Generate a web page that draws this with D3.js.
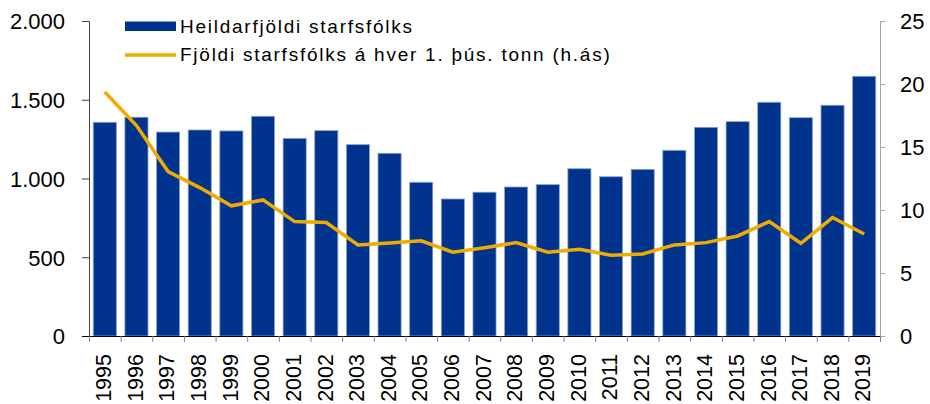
<!DOCTYPE html>
<html><head><meta charset="utf-8">
<script src="https://cdn.jsdelivr.net/npm/d3@7"></script>
<style>
body{margin:0;background:#fff;}
text{font-family:"Liberation Sans",Arial,sans-serif;fill:#000;}
</style></head>
<body><svg id="c" width="930" height="404"></svg>
<script>
const years = ["1995","1996","1997","1998","1999","2000","2001","2002","2003","2004","2005","2006","2007","2008","2009","2010","2011","2012","2013","2014","2015","2016","2017","2018","2019"];
const staffTotal = [1357,1389,1295,1308,1302,1395,1255,1304,1215,1160,976,870,913,946,961,1062,1011,1058,1179,1325,1361,1484,1386,1465,1649];
const staffPerKt = [19.36,16.7,13.05,11.78,10.33,10.8,9.08,9.0,7.23,7.39,7.55,6.65,7.01,7.41,6.65,6.89,6.41,6.51,7.23,7.41,7.94,9.08,7.36,9.4,8.1];
const leftTicks = [0,500,1000,1500,2000];
const rightTicks = [0,5,10,15,20,25];
const seriesNames = ["Heildarfjöldi starfsfólks","Fjöldi starfsfólks á hver 1. þús. tonn (h.ás)"];

const svg = d3.select("#c");
const L=89, R=880, T=21, B=336;
const x = d3.scaleBand().domain(years).range([L,R]).paddingInner(0.27).paddingOuter(0.135);
const yL = d3.scaleLinear().domain([0,2000]).range([B,T]);
const yR = d3.scaleLinear().domain([0,25]).range([B,T]);
const loc = d3.formatLocale({decimal:",",thousands:".",grouping:[3],currency:["",""]});
const fmt = loc.format(",");

// bars
svg.append("g").selectAll("rect").data(years).join("rect")
  .attr("x",d=>x(d)).attr("width",x.bandwidth())
  .attr("y",(d,i)=>yL(staffTotal[i])).attr("height",(d,i)=>B-yL(staffTotal[i]))
  .attr("fill","#00338d").attr("stroke","#8da3cf").attr("stroke-width",0.8);

// line
const line = d3.line().x((d,i)=>x(years[i])+x.bandwidth()/2).y(d=>yR(d));
svg.append("path").datum(staffPerKt).attr("d",line)
  .attr("fill","none").attr("stroke","#f0ab00").attr("stroke-width",3.5).attr("stroke-linejoin","miter");

// left axis
const gl = svg.append("g").attr("transform",`translate(${L},0)`)
  .call(d3.axisLeft(yL).tickValues(leftTicks).tickFormat(fmt).tickSize(7).tickPadding(17));
gl.select(".domain").attr("stroke","#404040");
gl.selectAll(".tick line").attr("stroke","#404040");
gl.selectAll("text").attr("font-size",22).attr("font-family","Liberation Sans, Arial, sans-serif").attr("dy","0.36em");

// right axis
const gr = svg.append("g").attr("transform",`translate(${R},0)`)
  .call(d3.axisRight(yR).tickValues(rightTicks).tickSize(5).tickPadding(15));
gr.select(".domain").attr("stroke","#a6a6a6");
gr.selectAll(".tick line").attr("stroke","#a6a6a6");
gr.selectAll("text").attr("font-size",22).attr("font-family","Liberation Sans, Arial, sans-serif").attr("dy","0.36em");

// bottom axis: boundary ticks
const xb = d3.scaleLinear().domain([0,years.length]).range([L,R]);
const gb = svg.append("g").attr("transform",`translate(0,${B})`)
  .call(d3.axisBottom(xb).tickValues(d3.range(years.length+1)).tickFormat("").tickSize(6).tickSizeOuter(0));
gb.select(".domain").attr("stroke","#000").attr("d",`M${L-7},0.5H${R}`);
gb.selectAll(".tick line").attr("stroke","#808080");

// bottom labels
const gx = svg.append("g").attr("transform",`translate(0,${B})`)
  .call(d3.axisBottom(x).tickSize(0).tickPadding(0));
gx.select(".domain").remove();
gx.selectAll("text").attr("font-size",21.5).attr("font-family","Liberation Sans, Arial, sans-serif")
  .attr("transform","rotate(-90)").attr("text-anchor","end").attr("x",-18).attr("y",-1.5).attr("dy","0.36em");

// legend
const lg = svg.append("g");
lg.append("rect").attr("x",125).attr("y",21.5).attr("width",51).attr("height",9.5).attr("fill","#00338d");
lg.append("line").attr("x1",125).attr("x2",176).attr("y1",55).attr("y2",55).attr("stroke","#f0ab00").attr("stroke-width",3.5);
lg.append("text").attr("x",180).attr("y",32.5).attr("font-size",19).attr("letter-spacing",1.75).text(seriesNames[0]);
lg.append("text").attr("x",180).attr("y",61).attr("font-size",19).attr("letter-spacing",1.75).text(seriesNames[1]);
</script></body></html>
